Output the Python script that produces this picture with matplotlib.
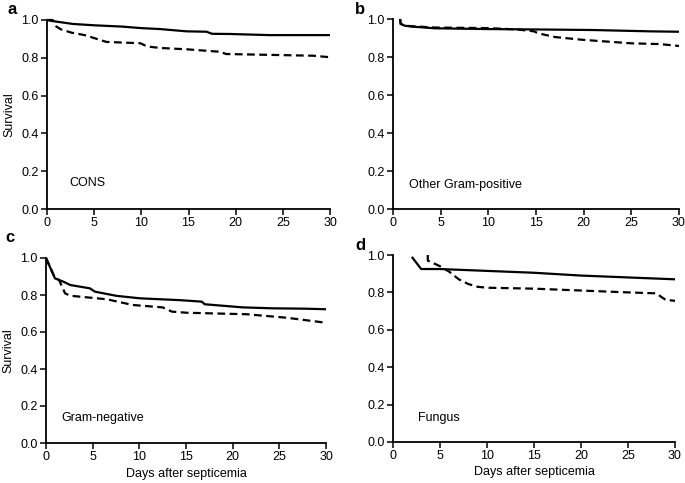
import matplotlib
matplotlib.use("Agg")
import matplotlib.pyplot as plt

plt.rcParams['font.family'] = ['Liberation Sans', 'DejaVu Sans']

# Panel a: CONS
a_solid_x = [0, 0.5, 2.75, 5, 8, 10, 12, 14.8, 16.9, 17.5, 19.4, 23.6, 30]
a_solid_y = [1.0, 0.995, 0.979, 0.972, 0.965, 0.957, 0.952, 0.94, 0.938, 0.927, 0.926, 0.92, 0.92]
a_dash_x = [0, 0.6, 1.0, 1.5, 2.6, 4, 6.3, 9.9, 10.6, 12, 14.8, 18.3, 19.0, 28.2, 30]
a_dash_y = [1.0, 1.0, 0.965, 0.95, 0.933, 0.92, 0.884, 0.877, 0.86, 0.852, 0.845, 0.832, 0.82, 0.811, 0.803]

# Panel b: Other Gram-positive
b_solid_x = [0.75, 0.8, 1.2, 2, 4.4, 10, 15, 21, 27, 30]
b_solid_y = [1.0, 0.975, 0.965, 0.96, 0.951, 0.947, 0.945, 0.942, 0.935, 0.933]
b_dash_x = [0.75, 0.8, 1.2, 2, 4.4, 10, 13, 14.8, 15.2, 17, 20, 25, 28, 30]
b_dash_y = [1.0, 0.975, 0.965, 0.962, 0.955, 0.952, 0.945, 0.935, 0.925, 0.905, 0.89, 0.872, 0.868, 0.858]

# Panel c: Gram-negative
c_solid_x = [0, 0.96, 1.86, 2.6, 4.7, 5.25, 7.6, 10.1, 14.4, 16.7, 17.0, 21.1, 24.3, 27.8, 30]
c_solid_y = [1.0, 0.89, 0.872, 0.854, 0.836, 0.818, 0.795, 0.782, 0.772, 0.764, 0.75, 0.733, 0.728, 0.726, 0.723]
c_dash_x = [0, 0.9, 1.4, 2.04, 2.6, 6.5, 9.3, 12.5, 13.5, 15.1, 21.5, 25.8, 30]
c_dash_y = [1.0, 0.899, 0.881, 0.809, 0.796, 0.777, 0.746, 0.733, 0.71, 0.704, 0.696, 0.677, 0.65]

# Panel d: Fungus
d_solid_x = [2, 3, 5, 10, 15, 20, 25, 30]
d_solid_y = [0.99, 0.925, 0.925, 0.915, 0.905, 0.89, 0.88, 0.87]
d_dash_x = [3.7, 3.7, 5, 6, 7, 8, 9, 10, 15, 20, 25, 28, 29, 30]
d_dash_y = [1.0, 0.97, 0.94, 0.91, 0.87, 0.845, 0.83, 0.825, 0.82, 0.81, 0.80, 0.795, 0.76, 0.755]

panels = [
    ("a", "CONS", a_solid_x, a_solid_y, a_dash_x, a_dash_y, 2.4, 0.137),
    ("b", "Other Gram-positive", b_solid_x, b_solid_y, b_dash_x, b_dash_y, 1.7, 0.127),
    ("c", "Gram-negative", c_solid_x, c_solid_y, c_dash_x, c_dash_y, 1.6, 0.135),
    ("d", "Fungus", d_solid_x, d_solid_y, d_dash_x, d_dash_y, 2.66, 0.128),
]

W, H = 685, 483
fig = plt.figure(figsize=(6.85, 4.83), dpi=100)

# axes rectangles in pixels: (x0, x30, y1, y0)
rects = [
    (47, 330, 20, 209),
    (393, 679, 19, 209),
    (46, 326, 258, 443),
    (393, 675, 255, 442),
]
letter_pos = [(8, 10), (355, 10), (5, 238), (355, 246)]

for i, (letter, name, sx, sy, dx, dy, tx, ty) in enumerate(panels):
    x0, x1, y1, y0 = rects[i]
    ax = fig.add_axes([x0 / W, 1 - y0 / H, (x1 - x0) / W, (y0 - y1) / H])
    ax.plot(sx, sy, color='black', lw=1.6, solid_capstyle='butt', solid_joinstyle='miter', clip_on=False)
    ax.plot(dx, dy, color='black', lw=1.6, linestyle=(0, (3.5, 2)), clip_on=False)
    ax.set_xlim(0, 30)
    ax.set_ylim(0, 1.0)
    ax.set_xticks([0, 5, 10, 15, 20, 25, 30])
    ax.set_yticks([0.0, 0.2, 0.4, 0.6, 0.8, 1.0])
    ax.set_yticklabels(['0.0', '0.2', '0.4', '0.6', '0.8', '1.0'])
    for s in ['top', 'right']:
        ax.spines[s].set_visible(False)
    for s in ['left', 'bottom']:
        ax.spines[s].set_linewidth(1.3)
    ax.tick_params(direction='out', length=4, width=1.1, labelsize=9, pad=2, colors='black')
    ax.patch.set_alpha(0)
    ax.text(tx, ty, name, fontsize=9, va='center', ha='left')
    if i in (0, 2):
        ax.set_ylabel('Survival', fontsize=9, labelpad=4)
    if i in (2, 3):
        ax.set_xlabel('Days after septicemia', fontsize=9, labelpad=3)
    lx, ly = letter_pos[i]
    fig.text(lx / W, 1 - ly / H, letter, fontsize=12, fontweight='bold', va='center', ha='left')

fig.savefig('out.png', dpi=100)
